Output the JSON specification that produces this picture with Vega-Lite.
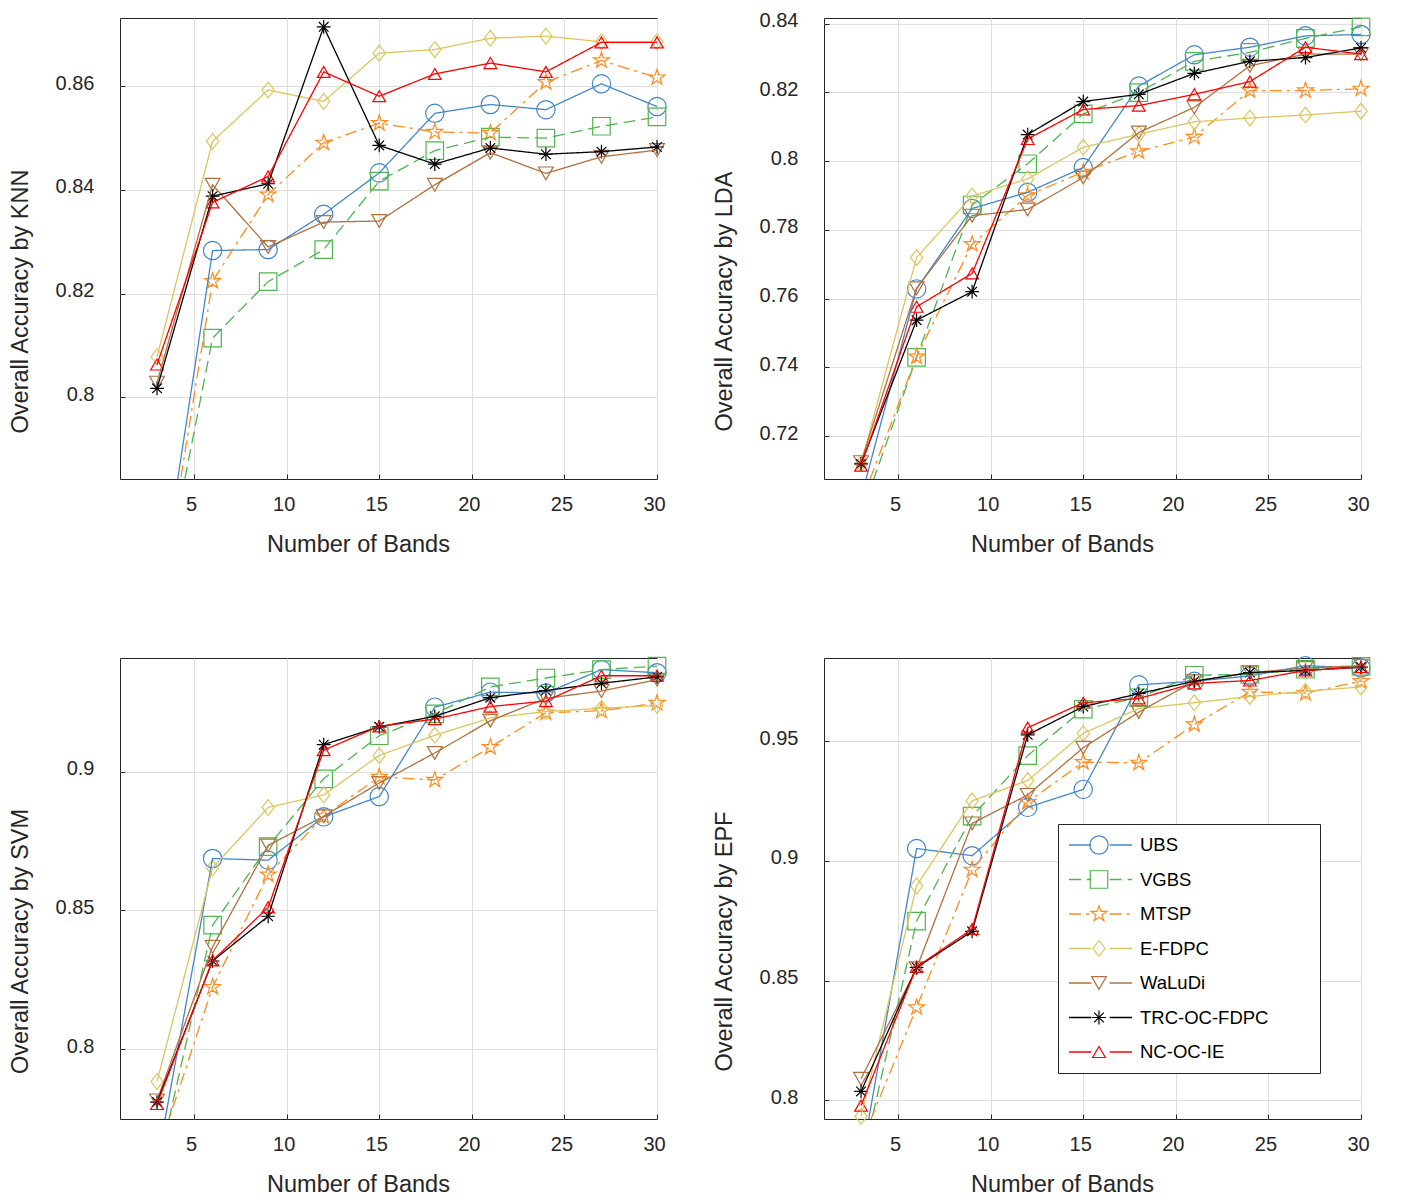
{
"$schema": "https://vega.github.io/schema/vega-lite/v6.json",
"padding": {"left": 7, "top": 10, "right": 0, "bottom": 0},
"background": "white",
"datasets": {"acc": [
{"clf":"KNN","method":"UBS","bands":3,"acc":0.758},{"clf":"KNN","method":"UBS","bands":6,"acc":0.8283},{"clf":"KNN","method":"UBS","bands":9,"acc":0.8285},{"clf":"KNN","method":"UBS","bands":12,"acc":0.8353},{"clf":"KNN","method":"UBS","bands":15,"acc":0.8433},{"clf":"KNN","method":"UBS","bands":18,"acc":0.8548},{"clf":"KNN","method":"UBS","bands":21,"acc":0.8565},{"clf":"KNN","method":"UBS","bands":24,"acc":0.8555},{"clf":"KNN","method":"UBS","bands":27,"acc":0.8605},{"clf":"KNN","method":"UBS","bands":30,"acc":0.8561},
{"clf":"KNN","method":"VGBS","bands":3,"acc":0.757},{"clf":"KNN","method":"VGBS","bands":6,"acc":0.8114},{"clf":"KNN","method":"VGBS","bands":9,"acc":0.8223},{"clf":"KNN","method":"VGBS","bands":12,"acc":0.8285},{"clf":"KNN","method":"VGBS","bands":15,"acc":0.8417},{"clf":"KNN","method":"VGBS","bands":18,"acc":0.8476},{"clf":"KNN","method":"VGBS","bands":21,"acc":0.8502},{"clf":"KNN","method":"VGBS","bands":24,"acc":0.85},{"clf":"KNN","method":"VGBS","bands":27,"acc":0.8523},{"clf":"KNN","method":"VGBS","bands":30,"acc":0.8541},
{"clf":"KNN","method":"MTSP","bands":3,"acc":0.756},{"clf":"KNN","method":"MTSP","bands":6,"acc":0.8224},{"clf":"KNN","method":"MTSP","bands":9,"acc":0.8391},{"clf":"KNN","method":"MTSP","bands":12,"acc":0.8491},{"clf":"KNN","method":"MTSP","bands":15,"acc":0.8529},{"clf":"KNN","method":"MTSP","bands":18,"acc":0.8512},{"clf":"KNN","method":"MTSP","bands":21,"acc":0.851},{"clf":"KNN","method":"MTSP","bands":24,"acc":0.8608},{"clf":"KNN","method":"MTSP","bands":27,"acc":0.865},{"clf":"KNN","method":"MTSP","bands":30,"acc":0.8617},
{"clf":"KNN","method":"E-FDPC","bands":3,"acc":0.8078},{"clf":"KNN","method":"E-FDPC","bands":6,"acc":0.8494},{"clf":"KNN","method":"E-FDPC","bands":9,"acc":0.8593},{"clf":"KNN","method":"E-FDPC","bands":12,"acc":0.8571},{"clf":"KNN","method":"E-FDPC","bands":15,"acc":0.8664},{"clf":"KNN","method":"E-FDPC","bands":18,"acc":0.8671},{"clf":"KNN","method":"E-FDPC","bands":21,"acc":0.8693},{"clf":"KNN","method":"E-FDPC","bands":24,"acc":0.8697},{"clf":"KNN","method":"E-FDPC","bands":27,"acc":0.8686},{"clf":"KNN","method":"E-FDPC","bands":30,"acc":0.8686},
{"clf":"KNN","method":"WaLuDi","bands":3,"acc":0.8028},{"clf":"KNN","method":"WaLuDi","bands":6,"acc":0.841},{"clf":"KNN","method":"WaLuDi","bands":9,"acc":0.829},{"clf":"KNN","method":"WaLuDi","bands":12,"acc":0.8338},{"clf":"KNN","method":"WaLuDi","bands":15,"acc":0.834},{"clf":"KNN","method":"WaLuDi","bands":18,"acc":0.841},{"clf":"KNN","method":"WaLuDi","bands":21,"acc":0.8472},{"clf":"KNN","method":"WaLuDi","bands":24,"acc":0.8432},{"clf":"KNN","method":"WaLuDi","bands":27,"acc":0.8464},{"clf":"KNN","method":"WaLuDi","bands":30,"acc":0.8477},
{"clf":"KNN","method":"TRC-OC-FDPC","bands":3,"acc":0.8017},{"clf":"KNN","method":"TRC-OC-FDPC","bands":6,"acc":0.8388},{"clf":"KNN","method":"TRC-OC-FDPC","bands":9,"acc":0.8412},{"clf":"KNN","method":"TRC-OC-FDPC","bands":12,"acc":0.8715},{"clf":"KNN","method":"TRC-OC-FDPC","bands":15,"acc":0.8486},{"clf":"KNN","method":"TRC-OC-FDPC","bands":18,"acc":0.845},{"clf":"KNN","method":"TRC-OC-FDPC","bands":21,"acc":0.8481},{"clf":"KNN","method":"TRC-OC-FDPC","bands":24,"acc":0.8469},{"clf":"KNN","method":"TRC-OC-FDPC","bands":27,"acc":0.8474},{"clf":"KNN","method":"TRC-OC-FDPC","bands":30,"acc":0.8483},
{"clf":"KNN","method":"NC-OC-IE","bands":3,"acc":0.8063},{"clf":"KNN","method":"NC-OC-IE","bands":6,"acc":0.8376},{"clf":"KNN","method":"NC-OC-IE","bands":9,"acc":0.8426},{"clf":"KNN","method":"NC-OC-IE","bands":12,"acc":0.8628},{"clf":"KNN","method":"NC-OC-IE","bands":15,"acc":0.8581},{"clf":"KNN","method":"NC-OC-IE","bands":18,"acc":0.8624},{"clf":"KNN","method":"NC-OC-IE","bands":21,"acc":0.8645},{"clf":"KNN","method":"NC-OC-IE","bands":24,"acc":0.8628},{"clf":"KNN","method":"NC-OC-IE","bands":27,"acc":0.8685},{"clf":"KNN","method":"NC-OC-IE","bands":30,"acc":0.8685},
{"clf":"LDA","method":"UBS","bands":3,"acc":0.702},{"clf":"LDA","method":"UBS","bands":6,"acc":0.7628},{"clf":"LDA","method":"UBS","bands":9,"acc":0.7862},{"clf":"LDA","method":"UBS","bands":12,"acc":0.7909},{"clf":"LDA","method":"UBS","bands":15,"acc":0.7981},{"clf":"LDA","method":"UBS","bands":18,"acc":0.8218},{"clf":"LDA","method":"UBS","bands":21,"acc":0.8309},{"clf":"LDA","method":"UBS","bands":24,"acc":0.8331},{"clf":"LDA","method":"UBS","bands":27,"acc":0.8364},{"clf":"LDA","method":"UBS","bands":30,"acc":0.8368},
{"clf":"LDA","method":"VGBS","bands":3,"acc":0.697},{"clf":"LDA","method":"VGBS","bands":6,"acc":0.7429},{"clf":"LDA","method":"VGBS","bands":9,"acc":0.7872},{"clf":"LDA","method":"VGBS","bands":12,"acc":0.7992},{"clf":"LDA","method":"VGBS","bands":15,"acc":0.8137},{"clf":"LDA","method":"VGBS","bands":18,"acc":0.8199},{"clf":"LDA","method":"VGBS","bands":21,"acc":0.829},{"clf":"LDA","method":"VGBS","bands":24,"acc":0.8316},{"clf":"LDA","method":"VGBS","bands":27,"acc":0.8357},{"clf":"LDA","method":"VGBS","bands":30,"acc":0.839},
{"clf":"LDA","method":"MTSP","bands":3,"acc":0.7006},{"clf":"LDA","method":"MTSP","bands":6,"acc":0.7431},{"clf":"LDA","method":"MTSP","bands":9,"acc":0.7758},{"clf":"LDA","method":"MTSP","bands":12,"acc":0.79},{"clf":"LDA","method":"MTSP","bands":15,"acc":0.7968},{"clf":"LDA","method":"MTSP","bands":18,"acc":0.8028},{"clf":"LDA","method":"MTSP","bands":21,"acc":0.807},{"clf":"LDA","method":"MTSP","bands":24,"acc":0.8205},{"clf":"LDA","method":"MTSP","bands":27,"acc":0.8205},{"clf":"LDA","method":"MTSP","bands":30,"acc":0.821},
{"clf":"LDA","method":"E-FDPC","bands":3,"acc":0.712},{"clf":"LDA","method":"E-FDPC","bands":6,"acc":0.7719},{"clf":"LDA","method":"E-FDPC","bands":9,"acc":0.7898},{"clf":"LDA","method":"E-FDPC","bands":12,"acc":0.7948},{"clf":"LDA","method":"E-FDPC","bands":15,"acc":0.804},{"clf":"LDA","method":"E-FDPC","bands":18,"acc":0.8078},{"clf":"LDA","method":"E-FDPC","bands":21,"acc":0.8114},{"clf":"LDA","method":"E-FDPC","bands":24,"acc":0.8125},{"clf":"LDA","method":"E-FDPC","bands":27,"acc":0.8134},{"clf":"LDA","method":"E-FDPC","bands":30,"acc":0.8145},
{"clf":"LDA","method":"WaLuDi","bands":3,"acc":0.7124},{"clf":"LDA","method":"WaLuDi","bands":6,"acc":0.763},{"clf":"LDA","method":"WaLuDi","bands":9,"acc":0.7841},{"clf":"LDA","method":"WaLuDi","bands":12,"acc":0.7859},{"clf":"LDA","method":"WaLuDi","bands":15,"acc":0.7952},{"clf":"LDA","method":"WaLuDi","bands":18,"acc":0.8083},{"clf":"LDA","method":"WaLuDi","bands":21,"acc":0.8156},{"clf":"LDA","method":"WaLuDi","bands":24,"acc":0.8277},{"clf":"LDA","method":"WaLuDi","bands":27,"acc":0.8311},{"clf":"LDA","method":"WaLuDi","bands":30,"acc":0.8311},
{"clf":"LDA","method":"TRC-OC-FDPC","bands":3,"acc":0.7119},{"clf":"LDA","method":"TRC-OC-FDPC","bands":6,"acc":0.7537},{"clf":"LDA","method":"TRC-OC-FDPC","bands":9,"acc":0.762},{"clf":"LDA","method":"TRC-OC-FDPC","bands":12,"acc":0.8077},{"clf":"LDA","method":"TRC-OC-FDPC","bands":15,"acc":0.8173},{"clf":"LDA","method":"TRC-OC-FDPC","bands":18,"acc":0.8194},{"clf":"LDA","method":"TRC-OC-FDPC","bands":21,"acc":0.8255},{"clf":"LDA","method":"TRC-OC-FDPC","bands":24,"acc":0.829},{"clf":"LDA","method":"TRC-OC-FDPC","bands":27,"acc":0.8301},{"clf":"LDA","method":"TRC-OC-FDPC","bands":30,"acc":0.8329},
{"clf":"LDA","method":"NC-OC-IE","bands":3,"acc":0.7114},{"clf":"LDA","method":"NC-OC-IE","bands":6,"acc":0.7576},{"clf":"LDA","method":"NC-OC-IE","bands":9,"acc":0.7673},{"clf":"LDA","method":"NC-OC-IE","bands":12,"acc":0.8064},{"clf":"LDA","method":"NC-OC-IE","bands":15,"acc":0.815},{"clf":"LDA","method":"NC-OC-IE","bands":18,"acc":0.8161},{"clf":"LDA","method":"NC-OC-IE","bands":21,"acc":0.8194},{"clf":"LDA","method":"NC-OC-IE","bands":24,"acc":0.8231},{"clf":"LDA","method":"NC-OC-IE","bands":27,"acc":0.8331},{"clf":"LDA","method":"NC-OC-IE","bands":30,"acc":0.8311},
{"clf":"SVM","method":"UBS","bands":3,"acc":0.759},{"clf":"SVM","method":"UBS","bands":6,"acc":0.8687},{"clf":"SVM","method":"UBS","bands":9,"acc":0.8681},{"clf":"SVM","method":"UBS","bands":12,"acc":0.8837},{"clf":"SVM","method":"UBS","bands":15,"acc":0.891},{"clf":"SVM","method":"UBS","bands":18,"acc":0.9232},{"clf":"SVM","method":"UBS","bands":21,"acc":0.9286},{"clf":"SVM","method":"UBS","bands":24,"acc":0.9283},{"clf":"SVM","method":"UBS","bands":27,"acc":0.9367},{"clf":"SVM","method":"UBS","bands":30,"acc":0.9356},
{"clf":"SVM","method":"VGBS","bands":3,"acc":0.7556},{"clf":"SVM","method":"VGBS","bands":6,"acc":0.8447},{"clf":"SVM","method":"VGBS","bands":9,"acc":0.873},{"clf":"SVM","method":"VGBS","bands":12,"acc":0.8974},{"clf":"SVM","method":"VGBS","bands":15,"acc":0.9129},{"clf":"SVM","method":"VGBS","bands":18,"acc":0.9208},{"clf":"SVM","method":"VGBS","bands":21,"acc":0.9305},{"clf":"SVM","method":"VGBS","bands":24,"acc":0.9337},{"clf":"SVM","method":"VGBS","bands":27,"acc":0.9367},{"clf":"SVM","method":"VGBS","bands":30,"acc":0.938},
{"clf":"SVM","method":"MTSP","bands":3,"acc":0.7617},{"clf":"SVM","method":"MTSP","bands":6,"acc":0.8224},{"clf":"SVM","method":"MTSP","bands":9,"acc":0.8629},{"clf":"SVM","method":"MTSP","bands":12,"acc":0.8839},{"clf":"SVM","method":"MTSP","bands":15,"acc":0.8981},{"clf":"SVM","method":"MTSP","bands":18,"acc":0.897},{"clf":"SVM","method":"MTSP","bands":21,"acc":0.9088},{"clf":"SVM","method":"MTSP","bands":24,"acc":0.9212},{"clf":"SVM","method":"MTSP","bands":27,"acc":0.9219},{"clf":"SVM","method":"MTSP","bands":30,"acc":0.9247},
{"clf":"SVM","method":"E-FDPC","bands":3,"acc":0.7884},{"clf":"SVM","method":"E-FDPC","bands":6,"acc":0.8653},{"clf":"SVM","method":"E-FDPC","bands":9,"acc":0.8871},{"clf":"SVM","method":"E-FDPC","bands":12,"acc":0.8916},{"clf":"SVM","method":"E-FDPC","bands":15,"acc":0.9058},{"clf":"SVM","method":"E-FDPC","bands":18,"acc":0.9131},{"clf":"SVM","method":"E-FDPC","bands":21,"acc":0.9193},{"clf":"SVM","method":"E-FDPC","bands":24,"acc":0.9216},{"clf":"SVM","method":"E-FDPC","bands":27,"acc":0.9228},{"clf":"SVM","method":"E-FDPC","bands":30,"acc":0.9238},
{"clf":"SVM","method":"WaLuDi","bands":3,"acc":0.7816},{"clf":"SVM","method":"WaLuDi","bands":6,"acc":0.8369},{"clf":"SVM","method":"WaLuDi","bands":9,"acc":0.8734},{"clf":"SVM","method":"WaLuDi","bands":12,"acc":0.8839},{"clf":"SVM","method":"WaLuDi","bands":15,"acc":0.8959},{"clf":"SVM","method":"WaLuDi","bands":18,"acc":0.9067},{"clf":"SVM","method":"WaLuDi","bands":21,"acc":0.9183},{"clf":"SVM","method":"WaLuDi","bands":24,"acc":0.9264},{"clf":"SVM","method":"WaLuDi","bands":27,"acc":0.929},{"clf":"SVM","method":"WaLuDi","bands":30,"acc":0.9331},
{"clf":"SVM","method":"TRC-OC-FDPC","bands":3,"acc":0.781},{"clf":"SVM","method":"TRC-OC-FDPC","bands":6,"acc":0.8318},{"clf":"SVM","method":"TRC-OC-FDPC","bands":9,"acc":0.8479},{"clf":"SVM","method":"TRC-OC-FDPC","bands":12,"acc":0.9097},{"clf":"SVM","method":"TRC-OC-FDPC","bands":15,"acc":0.9161},{"clf":"SVM","method":"TRC-OC-FDPC","bands":18,"acc":0.9199},{"clf":"SVM","method":"TRC-OC-FDPC","bands":21,"acc":0.9266},{"clf":"SVM","method":"TRC-OC-FDPC","bands":24,"acc":0.9292},{"clf":"SVM","method":"TRC-OC-FDPC","bands":27,"acc":0.9318},{"clf":"SVM","method":"TRC-OC-FDPC","bands":30,"acc":0.9341},
{"clf":"SVM","method":"NC-OC-IE","bands":3,"acc":0.7803},{"clf":"SVM","method":"NC-OC-IE","bands":6,"acc":0.832},{"clf":"SVM","method":"NC-OC-IE","bands":9,"acc":0.8511},{"clf":"SVM","method":"NC-OC-IE","bands":12,"acc":0.9077},{"clf":"SVM","method":"NC-OC-IE","bands":15,"acc":0.9163},{"clf":"SVM","method":"NC-OC-IE","bands":18,"acc":0.9189},{"clf":"SVM","method":"NC-OC-IE","bands":21,"acc":0.9234},{"clf":"SVM","method":"NC-OC-IE","bands":24,"acc":0.9254},{"clf":"SVM","method":"NC-OC-IE","bands":27,"acc":0.9345},{"clf":"SVM","method":"NC-OC-IE","bands":30,"acc":0.9345},
{"clf":"EPF","method":"UBS","bands":3,"acc":0.774},{"clf":"EPF","method":"UBS","bands":6,"acc":0.9052},{"clf":"EPF","method":"UBS","bands":9,"acc":0.9022},{"clf":"EPF","method":"UBS","bands":12,"acc":0.9224},{"clf":"EPF","method":"UBS","bands":15,"acc":0.9299},{"clf":"EPF","method":"UBS","bands":18,"acc":0.9736},{"clf":"EPF","method":"UBS","bands":21,"acc":0.9751},{"clf":"EPF","method":"UBS","bands":24,"acc":0.9773},{"clf":"EPF","method":"UBS","bands":27,"acc":0.9816},{"clf":"EPF","method":"UBS","bands":30,"acc":0.9806},
{"clf":"EPF","method":"VGBS","bands":3,"acc":0.772},{"clf":"EPF","method":"VGBS","bands":6,"acc":0.8749},{"clf":"EPF","method":"VGBS","bands":9,"acc":0.9187},{"clf":"EPF","method":"VGBS","bands":12,"acc":0.944},{"clf":"EPF","method":"VGBS","bands":15,"acc":0.9634},{"clf":"EPF","method":"VGBS","bands":18,"acc":0.9682},{"clf":"EPF","method":"VGBS","bands":21,"acc":0.9776},{"clf":"EPF","method":"VGBS","bands":24,"acc":0.9779},{"clf":"EPF","method":"VGBS","bands":27,"acc":0.9801},{"clf":"EPF","method":"VGBS","bands":30,"acc":0.9813},
{"clf":"EPF","method":"MTSP","bands":3,"acc":0.782},{"clf":"EPF","method":"MTSP","bands":6,"acc":0.8388},{"clf":"EPF","method":"MTSP","bands":9,"acc":0.8963},{"clf":"EPF","method":"MTSP","bands":12,"acc":0.9246},{"clf":"EPF","method":"MTSP","bands":15,"acc":0.9413},{"clf":"EPF","method":"MTSP","bands":18,"acc":0.941},{"clf":"EPF","method":"MTSP","bands":21,"acc":0.957},{"clf":"EPF","method":"MTSP","bands":24,"acc":0.9706},{"clf":"EPF","method":"MTSP","bands":27,"acc":0.9701},{"clf":"EPF","method":"MTSP","bands":30,"acc":0.9751},
{"clf":"EPF","method":"E-FDPC","bands":3,"acc":0.7933},{"clf":"EPF","method":"E-FDPC","bands":6,"acc":0.8896},{"clf":"EPF","method":"E-FDPC","bands":9,"acc":0.9251},{"clf":"EPF","method":"E-FDPC","bands":12,"acc":0.9336},{"clf":"EPF","method":"E-FDPC","bands":15,"acc":0.9533},{"clf":"EPF","method":"E-FDPC","bands":18,"acc":0.9637},{"clf":"EPF","method":"E-FDPC","bands":21,"acc":0.9661},{"clf":"EPF","method":"E-FDPC","bands":24,"acc":0.9687},{"clf":"EPF","method":"E-FDPC","bands":27,"acc":0.9709},{"clf":"EPF","method":"E-FDPC","bands":30,"acc":0.9727},
{"clf":"EPF","method":"WaLuDi","bands":3,"acc":0.809},{"clf":"EPF","method":"WaLuDi","bands":6,"acc":0.8552},{"clf":"EPF","method":"WaLuDi","bands":9,"acc":0.9157},{"clf":"EPF","method":"WaLuDi","bands":12,"acc":0.9276},{"clf":"EPF","method":"WaLuDi","bands":15,"acc":0.9473},{"clf":"EPF","method":"WaLuDi","bands":18,"acc":0.9622},{"clf":"EPF","method":"WaLuDi","bands":21,"acc":0.9751},{"clf":"EPF","method":"WaLuDi","bands":24,"acc":0.9787},{"clf":"EPF","method":"WaLuDi","bands":27,"acc":0.9806},{"clf":"EPF","method":"WaLuDi","bands":30,"acc":0.9816},
{"clf":"EPF","method":"TRC-OC-FDPC","bands":3,"acc":0.8037},{"clf":"EPF","method":"TRC-OC-FDPC","bands":6,"acc":0.8555},{"clf":"EPF","method":"TRC-OC-FDPC","bands":9,"acc":0.8706},{"clf":"EPF","method":"TRC-OC-FDPC","bands":12,"acc":0.9527},{"clf":"EPF","method":"TRC-OC-FDPC","bands":15,"acc":0.9645},{"clf":"EPF","method":"TRC-OC-FDPC","bands":18,"acc":0.9699},{"clf":"EPF","method":"TRC-OC-FDPC","bands":21,"acc":0.9751},{"clf":"EPF","method":"TRC-OC-FDPC","bands":24,"acc":0.9787},{"clf":"EPF","method":"TRC-OC-FDPC","bands":27,"acc":0.9796},{"clf":"EPF","method":"TRC-OC-FDPC","bands":30,"acc":0.981},
{"clf":"EPF","method":"NC-OC-IE","bands":3,"acc":0.7978},{"clf":"EPF","method":"NC-OC-IE","bands":6,"acc":0.8557},{"clf":"EPF","method":"NC-OC-IE","bands":9,"acc":0.8716},{"clf":"EPF","method":"NC-OC-IE","bands":12,"acc":0.9557},{"clf":"EPF","method":"NC-OC-IE","bands":15,"acc":0.9661},{"clf":"EPF","method":"NC-OC-IE","bands":18,"acc":0.9679},{"clf":"EPF","method":"NC-OC-IE","bands":21,"acc":0.9742},{"clf":"EPF","method":"NC-OC-IE","bands":24,"acc":0.9754},{"clf":"EPF","method":"NC-OC-IE","bands":27,"acc":0.9796},{"clf":"EPF","method":"NC-OC-IE","bands":30,"acc":0.981}
]},
"data": {"name": "acc"},
"config": {
  "font": "Liberation Sans",
  "view": {"stroke": "#262626", "strokeWidth": 1},
  "axis": {"domain": false, "grid": true, "gridColor": "#dedede", "gridWidth": 1, "ticks": true, "tickSize": -5, "tickColor": "#262626", "labelFlush": false, "labelFont": "Liberation Sans", "labelFontSize": 20, "labelColor": "#262626", "titleFont": "Liberation Sans", "titleFontSize": 23.5, "titleFontWeight": "normal", "titleColor": "#262626"},
  "axisX": {"titleX": 238, "titleY": 72, "titleBaseline": "alphabetic", "titleAlign": "center", "labelPadding": 20, "labelOffset": -3},
  "axisY": {"titleX": -93, "titleY": 283, "titleAngle": 270, "titleBaseline": "alphabetic", "titleAlign": "center", "labelPadding": 31, "labelOffset": -3}
},
"resolve": {"scale": {"color": "independent", "shape": "independent", "stroke": "independent", "size": "independent", "strokeDash": "independent"}},
"bounds": "flush",
"columns": 2,
"spacing": {"row": 179, "column": 167},
"concat": [
 {"width": 537, "height": 461,
  "transform": [{"filter": "datum.clf === 'KNN'"}],
  "encoding": {
   "x": {"field": "bands", "type": "quantitative", "scale": {"domain": [1, 30], "nice": false, "zero": false}, "axis": {"values": [5,10,15,20,25,30], "format": "d", "title": "Number of Bands"}},
   "y": {"field": "acc", "type": "quantitative", "scale": {"domain": [0.7842, 0.8732], "nice": false, "zero": false}, "axis": {"values": [0.8,0.82,0.84,0.86], "format": "~g", "title": "Overall Accuracy by KNN"}}
  },
  "layer": [
   {"mark": {"type": "point", "filled": false, "opacity": 1, "strokeWidth": 1.2, "clip": false},
    "transform": [{"filter": "datum.acc >= 0.7842"}],
    "encoding": {
     "shape": {"field": "method", "type": "nominal", "scale": {"domain": ["UBS","VGBS","MTSP","E-FDPC","WaLuDi","TRC-OC-FDPC","NC-OC-IE"], "range": ["circle","square","M0,-1L0.225,-0.309L0.951,-0.309L0.363,0.118L0.588,0.809L0,0.382L-0.588,0.809L-0.363,0.118L-0.951,-0.309L-0.225,-0.309Z","M0,-1L0.78,0L0,1L-0.78,0Z","triangle-down","M0,-1L0,1M-1,0L1,0M-0.7,-0.7L0.7,0.7M-0.7,0.7L0.7,-0.7","triangle-up"]}, "legend": null},
     "stroke": {"field": "method", "type": "nominal", "scale": {"domain": ["UBS","VGBS","MTSP","E-FDPC","WaLuDi","TRC-OC-FDPC","NC-OC-IE"], "range": ["#4487c9","#4fb54f","#ff8b1f","#dcc55f","#b0703f","#000000","#ff0000"]}, "legend": null},
     "size": {"field": "method", "type": "nominal", "scale": {"domain": ["UBS","VGBS","MTSP","E-FDPC","WaLuDi","TRC-OC-FDPC","NC-OC-IE"], "range": [335,161,320,441,400,256,400]}, "legend": null}
    }},
   {"mark": {"type": "line", "strokeWidth": 1.3, "clip": true},
    "encoding": {
     "color": {"field": "method", "type": "nominal", "sort": null, "scale": {"range": ["#4487c9","#4fb54f","#ff8b1f","#dcc55f","#b0703f","#000000","#ff0000"]}, "legend": null},
     "strokeDash": {"field": "method", "type": "nominal", "sort": null, "scale": {"range": [[1,0],[12,6],[12,5,3,5],[1,0],[1,0],[1,0],[1,0]]}, "legend": null}
    }}
  ]},
 {"width": 537, "height": 461,
  "transform": [{"filter": "datum.clf === 'LDA'"}],
  "encoding": {
   "x": {"field": "bands", "type": "quantitative", "scale": {"domain": [1, 30], "nice": false, "zero": false}, "axis": {"values": [5,10,15,20,25,30], "format": "d", "title": "Number of Bands"}},
   "y": {"field": "acc", "type": "quantitative", "scale": {"domain": [0.7075, 0.8416], "nice": false, "zero": false}, "axis": {"values": [0.72,0.74,0.76,0.78,0.8,0.82,0.84], "format": "~g", "title": "Overall Accuracy by LDA"}}
  },
  "layer": [
   {"mark": {"type": "point", "filled": false, "opacity": 1, "strokeWidth": 1.2, "clip": false},
    "transform": [{"filter": "datum.acc >= 0.7075"}],
    "encoding": {
     "shape": {"field": "method", "type": "nominal", "scale": {"domain": ["UBS","VGBS","MTSP","E-FDPC","WaLuDi","TRC-OC-FDPC","NC-OC-IE"], "range": ["circle","square","M0,-1L0.225,-0.309L0.951,-0.309L0.363,0.118L0.588,0.809L0,0.382L-0.588,0.809L-0.363,0.118L-0.951,-0.309L-0.225,-0.309Z","M0,-1L0.78,0L0,1L-0.78,0Z","triangle-down","M0,-1L0,1M-1,0L1,0M-0.7,-0.7L0.7,0.7M-0.7,0.7L0.7,-0.7","triangle-up"]}, "legend": null},
     "stroke": {"field": "method", "type": "nominal", "scale": {"domain": ["UBS","VGBS","MTSP","E-FDPC","WaLuDi","TRC-OC-FDPC","NC-OC-IE"], "range": ["#4487c9","#4fb54f","#ff8b1f","#dcc55f","#b0703f","#000000","#ff0000"]}, "legend": null},
     "size": {"field": "method", "type": "nominal", "scale": {"domain": ["UBS","VGBS","MTSP","E-FDPC","WaLuDi","TRC-OC-FDPC","NC-OC-IE"], "range": [335,161,320,441,400,256,400]}, "legend": null}
    }},
   {"mark": {"type": "line", "strokeWidth": 1.3, "clip": true},
    "encoding": {
     "color": {"field": "method", "type": "nominal", "sort": null, "scale": {"range": ["#4487c9","#4fb54f","#ff8b1f","#dcc55f","#b0703f","#000000","#ff0000"]}, "legend": null},
     "strokeDash": {"field": "method", "type": "nominal", "sort": null, "scale": {"range": [[1,0],[12,6],[12,5,3,5],[1,0],[1,0],[1,0],[1,0]]}, "legend": null}
    }}
  ]},
 {"width": 537, "height": 461,
  "transform": [{"filter": "datum.clf === 'SVM'"}],
  "encoding": {
   "x": {"field": "bands", "type": "quantitative", "scale": {"domain": [1, 30], "nice": false, "zero": false}, "axis": {"values": [5,10,15,20,25,30], "format": "d", "title": "Number of Bands"}},
   "y": {"field": "acc", "type": "quantitative", "scale": {"domain": [0.7749, 0.9409], "nice": false, "zero": false}, "axis": {"values": [0.8,0.85,0.9], "format": "~g", "title": "Overall Accuracy by SVM"}}
  },
  "layer": [
   {"mark": {"type": "point", "filled": false, "opacity": 1, "strokeWidth": 1.2, "clip": false},
    "transform": [{"filter": "datum.acc >= 0.7749"}],
    "encoding": {
     "shape": {"field": "method", "type": "nominal", "scale": {"domain": ["UBS","VGBS","MTSP","E-FDPC","WaLuDi","TRC-OC-FDPC","NC-OC-IE"], "range": ["circle","square","M0,-1L0.225,-0.309L0.951,-0.309L0.363,0.118L0.588,0.809L0,0.382L-0.588,0.809L-0.363,0.118L-0.951,-0.309L-0.225,-0.309Z","M0,-1L0.78,0L0,1L-0.78,0Z","triangle-down","M0,-1L0,1M-1,0L1,0M-0.7,-0.7L0.7,0.7M-0.7,0.7L0.7,-0.7","triangle-up"]}, "legend": null},
     "stroke": {"field": "method", "type": "nominal", "scale": {"domain": ["UBS","VGBS","MTSP","E-FDPC","WaLuDi","TRC-OC-FDPC","NC-OC-IE"], "range": ["#4487c9","#4fb54f","#ff8b1f","#dcc55f","#b0703f","#000000","#ff0000"]}, "legend": null},
     "size": {"field": "method", "type": "nominal", "scale": {"domain": ["UBS","VGBS","MTSP","E-FDPC","WaLuDi","TRC-OC-FDPC","NC-OC-IE"], "range": [335,161,320,441,400,256,400]}, "legend": null}
    }},
   {"mark": {"type": "line", "strokeWidth": 1.3, "clip": true},
    "encoding": {
     "color": {"field": "method", "type": "nominal", "sort": null, "scale": {"range": ["#4487c9","#4fb54f","#ff8b1f","#dcc55f","#b0703f","#000000","#ff0000"]}, "legend": null},
     "strokeDash": {"field": "method", "type": "nominal", "sort": null, "scale": {"range": [[1,0],[12,6],[12,5,3,5],[1,0],[1,0],[1,0],[1,0]]}, "legend": null}
    }}
  ]},
 {"width": 537, "height": 461,
  "transform": [{"filter": "datum.clf === 'EPF'"}],
  "encoding": {
   "x": {"field": "bands", "type": "quantitative", "scale": {"domain": [1, 30], "nice": false, "zero": false}, "axis": {"values": [5,10,15,20,25,30], "format": "d", "title": "Number of Bands"}},
   "y": {"field": "acc", "type": "quantitative", "scale": {"domain": [0.7922, 0.9848], "nice": false, "zero": false}, "axis": {"values": [0.8,0.85,0.9,0.95], "format": "~g", "title": "Overall Accuracy by EPF"}}
  },
  "layer": [
   {"mark": {"type": "point", "filled": false, "opacity": 1, "strokeWidth": 1.2, "clip": false},
    "transform": [{"filter": "datum.acc >= 0.7922"}],
    "encoding": {
     "shape": {"field": "method", "type": "nominal", "scale": {"domain": ["UBS","VGBS","MTSP","E-FDPC","WaLuDi","TRC-OC-FDPC","NC-OC-IE"], "range": ["circle","square","M0,-1L0.225,-0.309L0.951,-0.309L0.363,0.118L0.588,0.809L0,0.382L-0.588,0.809L-0.363,0.118L-0.951,-0.309L-0.225,-0.309Z","M0,-1L0.78,0L0,1L-0.78,0Z","triangle-down","M0,-1L0,1M-1,0L1,0M-0.7,-0.7L0.7,0.7M-0.7,0.7L0.7,-0.7","triangle-up"]},
      "legend": {"orient": "none", "legendX": 234, "legendY": 166, "title": null, "symbolOffset": 21, "labelOffset": 194, "labelOpacity": 0, "labelFont": "Liberation Sans", "labelFontSize": 1, "padding": 10, "rowPadding": 12.5, "clipHeight": 22, "fillColor": "#ffffff", "strokeColor": "#262626", "symbolStrokeWidth": 1.2}},
     "stroke": {"field": "method", "type": "nominal", "scale": {"domain": ["UBS","VGBS","MTSP","E-FDPC","WaLuDi","TRC-OC-FDPC","NC-OC-IE"], "range": ["#4487c9","#4fb54f","#ff8b1f","#dcc55f","#b0703f","#000000","#ff0000"]}},
     "size": {"field": "method", "type": "nominal", "scale": {"domain": ["UBS","VGBS","MTSP","E-FDPC","WaLuDi","TRC-OC-FDPC","NC-OC-IE"], "range": [335,161,320,441,400,256,400]}}
    }},
   {"mark": {"type": "line", "strokeWidth": 1.3, "clip": true},
    "encoding": {
     "color": {"field": "method", "type": "nominal", "sort": null, "scale": {"range": ["#4487c9","#4fb54f","#ff8b1f","#dcc55f","#b0703f","#000000","#ff0000"]},
      "legend": {"orient": "none", "legendX": 234, "legendY": 166, "title": null, "symbolType": "M-1,0H-0.29M0.29,0H1", "symbolSize": 3969, "symbolStrokeWidth": 1.3, "symbolOffset": 0, "labelOffset": 7, "labelFont": "Liberation Sans", "labelFontSize": 18.5, "labelColor": "#000000", "padding": 10, "rowPadding": 12.5, "clipHeight": 22}},
     "strokeDash": {"field": "method", "type": "nominal", "sort": null, "scale": {"range": [[1,0],[12,6],[12,5,3,5],[1,0],[1,0],[1,0],[1,0]]}}
    }}
  ]}
]
}
